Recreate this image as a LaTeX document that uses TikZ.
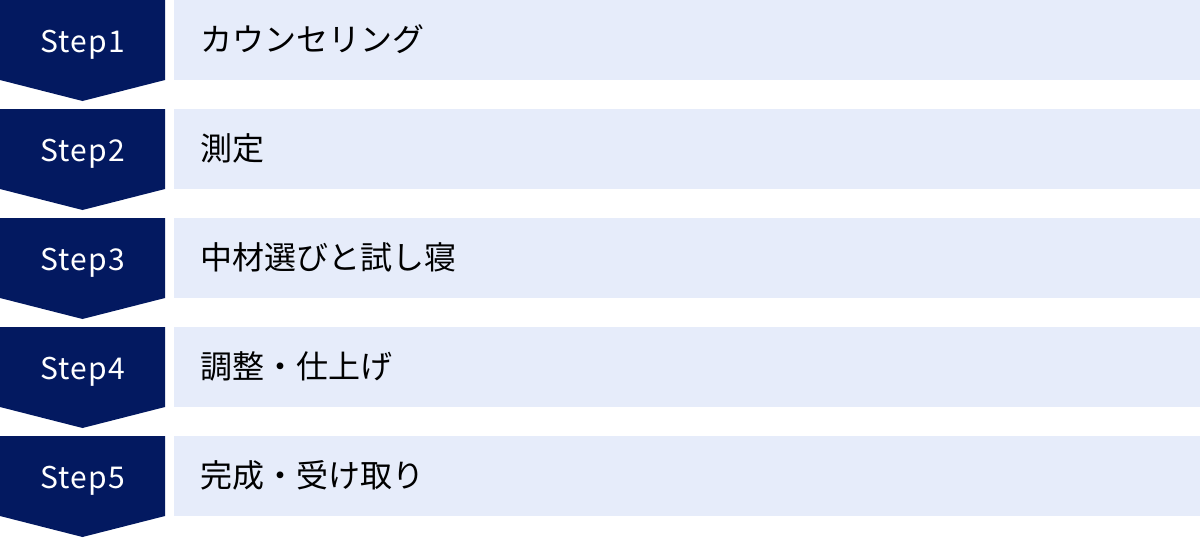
\documentclass[tikz,border=0pt]{standalone}
\usepackage{fontspec}
\newfontfamily\jpfont{Noto Sans CJK JP}
\newfontfamily\stepfont{Noto Sans CJK JP}[LetterSpace=4]
\definecolor{stepnavy}{RGB}{3,25,96}
\definecolor{rowpale}{RGB}{230,236,250}

\begin{document}
\begin{tikzpicture}[x=1pt, y=-1pt,
    steplabel/.style={anchor=base, text=white, inner sep=0pt, font=\stepfont\fontsize{30pt}{30pt}\selectfont},
    itemlabel/.style={anchor=base west, inner sep=0pt, text=black, font=\jpfont\fontsize{32pt}{32pt}\selectfont}]
    \useasboundingbox (0,0) rectangle (1200,538);
    \foreach \i/\t in {1/カウンセリング, 2/測定, 3/中材選びと試し寝, 4/調整・仕上げ, 5/完成・受け取り} {
        \pgfmathsetmacro{\y}{(\i-1)*109}
        % step arrow and row band
        \fill[stepnavy] (0,\y) -- (165,\y) -- (165,\y+80) -- (82.5,\y+101) -- (0,\y+80) -- cycle;
        \fill[rowpale] (174,\y) rectangle (1200,\y+80);
        \node[steplabel] (S\i) at (82.5,\y+52) {Step\i};
        \node[itemlabel] (T\i) at (200,\y+51) {\t};
    }
\end{tikzpicture}
\end{document}
